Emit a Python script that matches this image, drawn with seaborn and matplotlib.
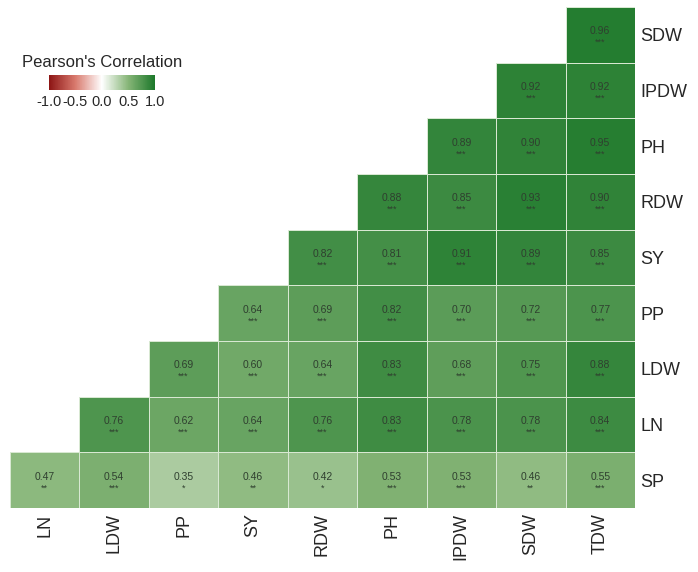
import numpy as np
import pandas as pd
import seaborn as sns
import matplotlib.pyplot as plt
from matplotlib.colors import LinearSegmentedColormap

# row / column labels of the triangle
rows = ["SDW", "IPDW", "PH", "RDW", "SY", "PP", "LDW", "LN", "SP"]
cols = ["LN", "LDW", "PP", "SY", "RDW", "PH", "IPDW", "SDW", "TDW"]

# correlation values per row (rightmost cells)
r_sdw = [0.96]
r_ipdw = [0.92, 0.92]
r_ph = [0.89, 0.90, 0.95]
r_rdw = [0.88, 0.85, 0.93, 0.90]
r_sy = [0.82, 0.81, 0.91, 0.89, 0.85]
r_pp = [0.64, 0.69, 0.82, 0.70, 0.72, 0.77]
r_ldw = [0.69, 0.60, 0.64, 0.83, 0.68, 0.75, 0.88]
r_ln = [0.76, 0.62, 0.64, 0.76, 0.83, 0.78, 0.78, 0.84]
r_sp = [0.47, 0.54, 0.35, 0.46, 0.42, 0.53, 0.53, 0.46, 0.55]

# significance stars, everything is *** except the SP row
sp_stars = ["**", "***", "*", "**", "*", "***", "***", "**", "***"]

cbar_ticks = [-1.0, -0.5, 0.0, 0.5, 1.0]


def build_frame():
    all_rows = [r_sdw, r_ipdw, r_ph, r_rdw, r_sy, r_pp, r_ldw, r_ln, r_sp]
    mat = []
    for vals in all_rows:
        mat.append([np.nan] * (len(cols) - len(vals)) + list(vals))
    return pd.DataFrame(mat, index=rows, columns=cols)


def main():
    sns.set_style("white")
    plt.rcParams["font.family"] = ["Liberation Sans", "DejaVu Sans"]

    df = build_frame()
    cmap = LinearSegmentedColormap.from_list(
        "rwg",
        [(0.0, "#8c1414"), (0.25, "#d97a6e"), (0.5, "#ffffff"),
         (0.75, "#86b577"), (1.0, "#1c782a")],
    )

    fig = plt.figure(figsize=(6.98, 5.72), dpi=100)
    ax = fig.add_axes([0.0143, 0.112, 0.8954, 0.876])
    cax = fig.add_axes([0.070, 0.843, 0.152, 0.026])

    sns.heatmap(df, ax=ax, cmap=cmap, vmin=-1, vmax=1, mask=df.isna(),
                linewidths=0.6, linecolor="#d8e8d2", square=False,
                cbar_ax=cax, cbar_kws={"orientation": "horizontal", "ticks": cbar_ticks})

    # no cell borders on the empty (masked) half
    mesh = ax.collections[0]
    empty = df.isna().values.ravel()
    mesh.set_edgecolors([(1, 1, 1, 0) if e else "#d8e8d2" for e in empty])

    # numbers and stars
    for i, r in enumerate(rows):
        for j, c in enumerate(cols):
            v = df.loc[r, c]
            if np.isnan(v):
                continue
            stars = sp_stars[j] if r == "SP" else "***"
            ax.text(j + 0.5, i + 0.44, f"{v:.2f}", ha="center", va="center",
                    fontsize=7.5, color="#2f3f2f")
            ax.text(j + 0.5, i + 0.64, stars, ha="center", va="center",
                    fontsize=6.5, color="#2f3f2f")

    ax.yaxis.tick_right()
    ax.set_yticklabels(rows, rotation=0, fontsize=13)
    ax.set_xticklabels(cols, rotation=90, fontsize=13)
    ax.tick_params(axis="both", length=0, pad=4)
    ax.set_xlabel("")
    ax.set_ylabel("")

    cax.set_title("Pearson's Correlation", fontsize=12, pad=6)
    cax.set_xticklabels(["-1.0", "-0.5", "0.0", "0.5", "1.0"], fontsize=10.5)
    cax.tick_params(axis="x", length=3, color="white", direction="in", pad=4)
    cbar = mesh.colorbar
    if cbar is not None:
        cbar.outline.set_visible(False)

    fig.savefig("out.png", dpi=100)


if __name__ == "__main__":
    main()
